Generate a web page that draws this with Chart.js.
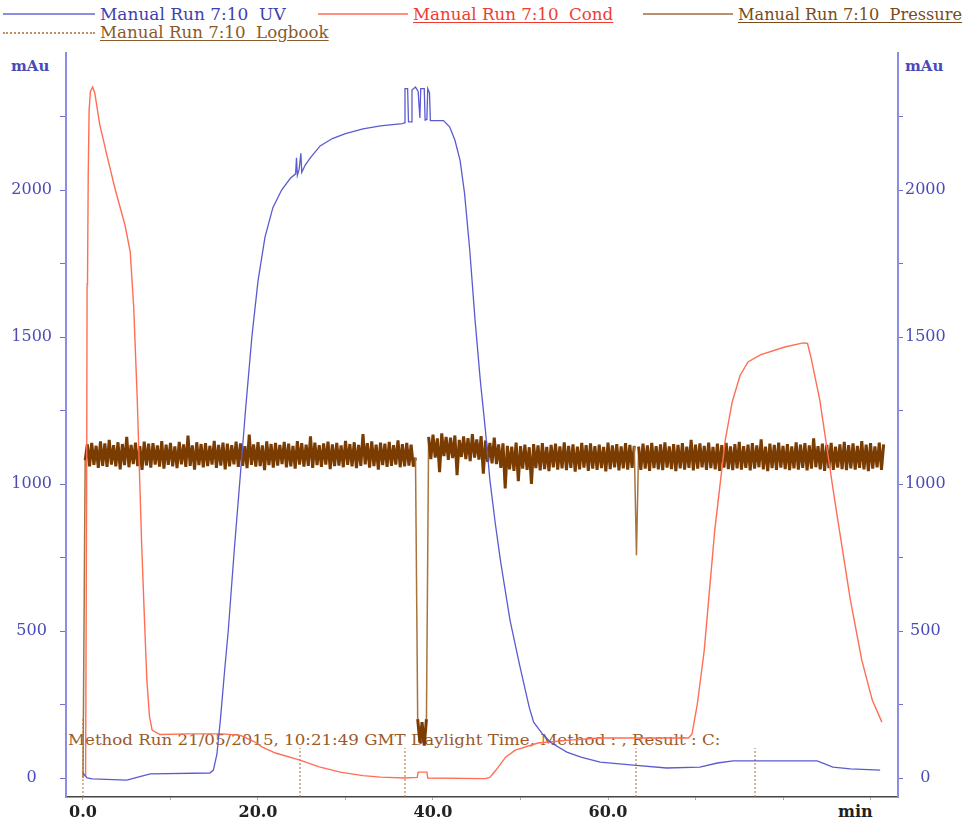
<!DOCTYPE html>
<html>
<head>
<meta charset="utf-8">
<script src="https://cdn.jsdelivr.net/npm/chart.js@4"></script>
<style>
  html, body { margin: 0; padding: 0; background: #ffffff; }
  #wrap { position: relative; width: 967px; height: 818px; overflow: hidden; background: #fff; }
  #chart { position: absolute; left: 0; top: 0; z-index: 2; }
  .txt { position: absolute; white-space: pre; font-family: "DejaVu Serif", serif; transform-origin: 0 0; }
  .legline { position: absolute; height: 0; }
  .u { text-decoration: underline; text-underline-offset: 2px; }
</style>
</head>
<body>
<div id="wrap">
  <div class="legline" style="left:3px;top:13px;width:92px;border-top:2px solid #8a8ee0;"></div>
  <div class="txt" style="left:100px;top:5px;font-size:16px;color:#4040b0;transform:scaleX(1.06);">Manual Run 7:10  UV</div>
  <div class="legline" style="left:318px;top:13px;width:90px;border-top:2px solid #ff9080;"></div>
  <div class="txt u" style="left:413px;top:5px;font-size:16px;color:#f03c30;transform:scaleX(1.04);">Manual Run 7:10  Cond</div>
  <div class="legline" style="left:643px;top:13px;width:90px;border-top:2px solid #b89070;"></div>
  <div class="txt u" style="left:738px;top:5px;font-size:16px;color:#7a4a20;transform:scaleX(1.01);">Manual Run 7:10  Pressure</div>
  <div class="legline" style="left:3px;top:32px;width:92px;border-top:2px dotted #c09060;"></div>
  <div class="txt u" style="left:100px;top:23px;font-size:16px;color:#8a5a2a;transform:scaleX(1.04);">Manual Run 7:10  Logbook</div>

  <div class="txt" style="left:11px;top:57px;font-size:15px;font-weight:bold;color:#4a4ab8;">mAu</div>
  <div class="txt" style="left:905px;top:57px;font-size:15px;font-weight:bold;color:#4a4ab8;">mAu</div>
  <div class="txt" style="left:838px;top:802px;font-size:16px;font-weight:bold;color:#222;">min</div>

  <div class="txt" style="left:68px;top:731px;font-size:15px;color:#9a5a28;z-index:1;transform:scaleX(1.11);">Method Run 21/05/2015, 10:21:49 GMT Daylight Time, Method : , Result : C:</div>

  <canvas id="chart" width="967" height="818"></canvas>
</div>
<script>
// ---------- data ----------
const xTickValues = [0, 10, 20, 30, 40, 50, 60, 70, 80, 90];
const xLabelValues = [0, 20, 40, 60];
const yTickValues = [0, 250, 500, 750, 1000, 1250, 1500, 1750, 2000, 2250];

const uvTime = [0, 0.46, 1.1, 5, 6.5, 7.7, 14.5, 14.9, 15.3, 15.7, 16.2, 16.6, 17.3, 17.9, 18.6, 19.3, 20.0, 20.8, 21.7, 22.7, 23.7, 24.3,
  24.4, 24.5, 24.7, 24.9, 25.0, 25.4, 26, 27.1, 28.5, 30, 32, 34, 36.5,
  36.7, 36.8, 37.1, 37.2, 37.5, 37.6, 38.0, 38.3, 38.5, 38.6, 39.0, 39.1, 39.3, 39.4, 39.6, 39.7,
  41.2, 41.9, 42.5, 43.1, 43.6, 44.2, 44.8, 45.4, 46.0, 46.5, 47.1, 47.7, 48.3, 48.8, 49.9, 51, 51.5, 52.5, 53.5, 55.3, 57, 59.1, 62.9, 66.7, 70.5, 72.5, 74.3, 83.9, 85.7, 87.7, 91.1];
const uvValue = [17, 0, -3, -7, 5, 14, 17, 27, 80, 197, 370, 500, 780, 1000, 1260, 1500, 1690, 1840, 1940, 2000, 2040, 2055,
  2110, 2050, 2070, 2125, 2060, 2085, 2110, 2150, 2175, 2192, 2208, 2218, 2226,
  2228, 2345, 2345, 2232, 2232, 2340, 2350, 2335, 2245, 2345, 2345, 2238, 2240, 2345, 2330, 2236,
  2236, 2215, 2170, 2100, 1990, 1796, 1560, 1354, 1180, 1014, 870, 741, 630, 537, 384, 240, 190, 150, 120, 88, 70, 54, 44, 34, 37, 51, 58, 58, 37, 31, 27];

const condTime = [0.3, 0.42, 0.47, 0.52, 0.6, 0.7, 0.85, 1.1, 1.35, 1.9, 2.8, 3.7, 4.8, 5.4, 5.8, 6.2, 6.7, 7.0, 7.3, 7.6, 7.9, 8.8, 12, 16, 18, 19.5, 20.5, 22, 24.8, 27, 29.4, 32, 34, 36.8,
  38.2, 38.3, 39.3, 39.4, 46, 46.5, 47.2, 48.3, 49.4, 52, 55.6, 59, 69.2, 69.6, 70.2, 71, 72.2, 73.4, 74.2, 75.1, 76, 77.4, 80.2, 82.3, 82.8, 83.2, 84.2, 85.9, 87.7, 89, 90.2, 91.3];
const condValue = [5, 1000, 1680, 1700, 2050, 2270, 2335, 2350, 2330, 2225, 2110, 2000, 1881, 1790, 1600, 1290, 800, 560, 333, 210, 163, 148, 150, 150, 145, 125, 105, 85, 61, 38, 20, 8, 3, 0,
  2, 20, 20, 0, -2, 2, 27, 71, 95, 119, 129, 136, 136, 150, 250, 435, 843, 1150, 1280, 1370, 1415, 1439, 1466, 1480, 1478, 1430, 1286, 946, 605, 401, 265, 190];

// pressure sampled on a regular time grid
const pressureStart = 0;
const pressureStep = 0.25;
const pressureValue = [0,
  1080, 1135, 1060, 1140, 1065, 1130, 1055, 1145, 1062, 1138,
  1058, 1150, 1066, 1132, 1060, 1142, 1050, 1136, 1064, 1160,
  1057, 1133, 1068, 1141, 1061, 1129, 1048, 1144, 1063, 1137,
  1056, 1139, 1066, 1131, 1059, 1146, 1052, 1134, 1065, 1140,
  1060, 1128, 1054, 1143, 1067, 1135, 1058, 1165, 1062, 1131,
  1049, 1142, 1064, 1136, 1057, 1139, 1061, 1130, 1066, 1147,
  1055, 1133, 1063, 1141, 1050, 1137, 1060, 1132, 1067, 1144,
  1058, 1138, 1062, 1129, 1054, 1168, 1065, 1135, 1059, 1142,
  1061, 1131, 1047, 1145, 1064, 1136, 1056, 1140, 1063, 1133,
  1068, 1143, 1057, 1137, 1060, 1130, 1052, 1146, 1066, 1139,
  1059, 1134, 1062, 1162, 1055, 1141, 1064, 1132, 1058, 1138,
  1066, 1144, 1051, 1135, 1061, 1140, 1063, 1131, 1057, 1147,
  1065, 1136, 1060, 1142, 1054, 1133, 1062, 1170, 1067, 1139,
  1056, 1145, 1061, 1134, 1049, 1141, 1064, 1137, 1058, 1143,
  1062, 1132, 1066, 1148, 1057, 1136, 1060, 1140, 1063, 1134,
  1059, 1090,
  200, 120, 190, 110, 200, 1160,
  1085, 1168, 1090, 1155, 1040, 1172, 1095, 1160, 1082, 1158, 1088, 1165,
  1030, 1150, 1092, 1162, 1085, 1156, 1078, 1170, 1090, 1152,
  1083, 1163, 1035, 1148, 1075, 1140, 1070, 1158, 1068, 1135,
  1055, 1138, 985, 1130, 1050, 1127, 1045, 1141, 1010, 1129,
  1052, 1134, 1048, 1125, 1000, 1136, 1054, 1131, 1046, 1139,
  1051, 1126, 1044, 1133, 1057, 1137, 1049, 1128, 1053, 1142,
  1047, 1130, 1055, 1135, 1042, 1127, 1050, 1140, 1056, 1132,
  1045, 1138, 1052, 1129, 1048, 1134, 1054, 1126, 1043, 1141,
  1051, 1131, 1057, 1136, 1046, 1128, 1053, 1139, 1049, 1133,
  1055, 1130,
  758,
  1127, 1048, 1137, 1052, 1131, 1045, 1140,
  1054, 1129, 1050, 1135, 1047, 1142, 1056, 1128, 1051, 1136,
  1044, 1133, 1053, 1139, 1049, 1127, 1055, 1150, 1046, 1134,
  1052, 1138, 1057, 1130, 1048, 1141, 1054, 1126, 1050, 1137,
  1045, 1132, 1056, 1140, 1051, 1128, 1047, 1136, 1053, 1143,
  1049, 1129, 1055, 1134, 1046, 1139, 1052, 1131, 1057, 1152,
  1050, 1127, 1044, 1137, 1054, 1133, 1048, 1141, 1056, 1130,
  1051, 1136, 1047, 1128, 1053, 1142, 1049, 1134, 1055, 1139,
  1046, 1131, 1052, 1155, 1057, 1129, 1050, 1137, 1045, 1133,
  1054, 1140, 1048, 1127, 1056, 1135, 1051, 1143, 1047, 1132,
  1053, 1138, 1049, 1130, 1055, 1146, 1050, 1134, 1044, 1139,
  1052, 1128, 1057, 1141, 1048, 1135];

const logbookTime = [0, 24.8, 36.8, 63.2, 76.8];
const logbookTop = [205, 102, 102, 102, 102];

// ---------- build ----------
const X_MIN = -1.94, X_MAX = 93.14, Y_MIN = -64.6, Y_MAX = 2466;

const uvData = uvTime.map((t, i) => ({x: t, y: uvValue[i]}));
const condData = condTime.map((t, i) => ({x: t, y: condValue[i]}));
const pressureData = pressureValue.map((v, i) => ({x: pressureStart + i * pressureStep, y: v}));
const logbookData = [];
logbookTime.forEach((t, i) => {
  logbookData.push({x: t, y: Y_MIN}, {x: t, y: logbookTop[i]}, {x: t, y: null});
});

const serif = "'DejaVu Serif', serif";

function setTicks(values) {
  return function (scale) { scale.ticks = values.map(v => ({value: v})); };
}
// long jumps of the pressure trace are drawn thin and lighter, like the original
const bigJump = ctx => Math.abs(ctx.p0.parsed.y - ctx.p1.parsed.y) > 250;

new Chart(document.getElementById('chart'), {
  type: 'line',
  data: {
    datasets: [
      {label: 'Manual Run 7:10  UV', data: uvData, borderColor: '#5b5bd0', borderWidth: 1.3},
      {label: 'Manual Run 7:10  Cond', data: condData, borderColor: '#ff6e55', borderWidth: 1.4},
      {label: 'Manual Run 7:10  Pressure', data: pressureData, borderColor: '#7a3c00', borderWidth: 3, borderJoinStyle: 'bevel',
        segment: {
          borderWidth: ctx => bigJump(ctx) ? 1.5 : undefined,
          borderColor: ctx => bigJump(ctx) ? '#a8743e' : undefined
        }},
      {label: 'Manual Run 7:10  Logbook', data: logbookData, borderColor: '#b06a30', borderWidth: 1, borderDash: [2, 2], spanGaps: false}
    ]
  },
  options: {
    responsive: false,
    animation: false,
    devicePixelRatio: 1,
    parsing: false,
    normalized: true,
    elements: {point: {radius: 0, hoverRadius: 0}, line: {tension: 0, fill: false}},
    layout: {padding: {top: 53, left: 0, right: 0, bottom: 0}},
    plugins: {legend: {display: false}, tooltip: {enabled: false}},
    events: [],
    scales: {
      x: {
        type: 'linear', position: 'bottom', min: X_MIN, max: X_MAX,
        afterBuildTicks: setTicks(xTickValues),
        afterFit: s => { s.height = 21; },
        ticks: {
          autoSkip: false, maxRotation: 0, padding: 3, color: '#222',
          font: {family: serif, size: 16, weight: 'bold'},
          callback: v => xLabelValues.includes(v) ? v.toFixed(1) : ''
        },
        grid: {drawOnChartArea: false, drawTicks: true, tickLength: 3, color: '#aaa'},
        border: {color: '#444', width: 1.5}
      },
      y: {
        type: 'linear', position: 'left', min: Y_MIN, max: Y_MAX,
        afterBuildTicks: setTicks(yTickValues),
        afterFit: s => { s.width = 66; },
        ticks: {
          autoSkip: false, padding: 8, crossAlign: 'center', color: '#4a4ab8',
          font: {family: serif, size: 16},
          callback: v => v % 500 === 0 ? String(v) : ''
        },
        grid: {drawOnChartArea: false, drawTicks: true, tickLength: 6, color: '#7070c8'},
        border: {color: '#8a8ee0', width: 2}
      },
      y2: {
        type: 'linear', position: 'right', min: Y_MIN, max: Y_MAX,
        afterBuildTicks: setTicks(yTickValues),
        afterFit: s => { s.width = 69; },
        ticks: {
          autoSkip: false, padding: 2, crossAlign: 'center', color: '#4a4ab8',
          font: {family: serif, size: 16},
          callback: v => v % 500 === 0 ? String(v) : ''
        },
        grid: {drawOnChartArea: false, drawTicks: true, tickLength: 5, color: '#7070c8'},
        border: {color: '#8a8ee0', width: 2}
      }
    }
  }
});
</script>
</body>
</html>
